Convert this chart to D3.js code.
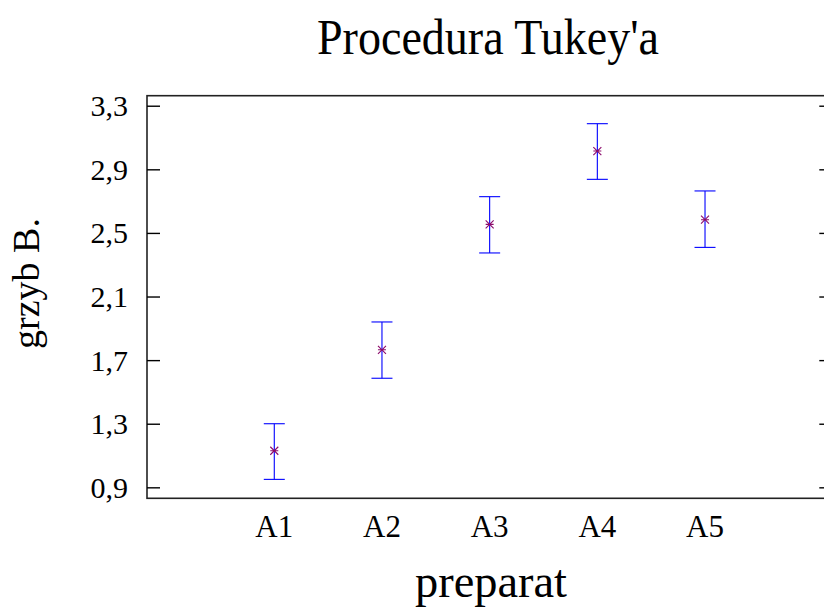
<!DOCTYPE html>
<html>
<head>
<meta charset="utf-8">
<script src="https://cdn.jsdelivr.net/npm/d3@7"></script>
<style>
html,body{margin:0;padding:0;background:#fff;}
svg{display:block;}
text{font-family:"Liberation Serif","Times New Roman",serif;fill:#000;}
</style>
</head>
<body>
<svg id="chart" width="824" height="607"></svg>
<script>
const categories = ["A1","A2","A3","A4","A5"];
const means = [1.130, 1.765, 2.554, 3.015, 2.583];
const lower = [0.950, 1.586, 2.374, 2.837, 2.409];
const upper = [1.300, 1.940, 2.728, 3.187, 2.764];
const yTicks = [0.9, 1.3, 1.7, 2.1, 2.5, 2.9, 3.3];
const title = "Procedura Tukey'a";
const xTitle = "preparat";
const yTitle = "grzyb B.";

const svg = d3.select("#chart");
const pLeft = 147, pRight = 832.3, pTop = 95.7, pBottom = 498.3;

const x = d3.scaleLinear().domain([-1.182, 5.182]).range([pLeft, pRight]);
const y = d3.scaleLinear().domain([0.831, 3.363]).range([pBottom, pTop]);
const fmt = v => d3.format(".1f")(v).replace(".", ",");

// frame
svg.append("rect").attr("x", pLeft).attr("y", pTop)
  .attr("width", pRight - pLeft).attr("height", pBottom - pTop)
  .attr("fill", "none").attr("stroke", "#222").attr("stroke-width", 1.6);

// left axis
const yAxisL = d3.axisLeft(y).tickValues(yTicks).tickSize(-13).tickPadding(19).tickFormat(fmt);
const gl = svg.append("g").attr("transform", `translate(${pLeft},0)`).call(yAxisL);
gl.select(".domain").remove();
gl.selectAll(".tick line").attr("stroke", "#000").attr("stroke-width", 1.4);
gl.selectAll(".tick text").attr("font-size", 30).attr("x", -19).attr("dy", "0.33em")
  .style("font-family", '"Liberation Serif","Times New Roman",serif').attr("fill", "#000");

// right axis ticks
const yAxisR = d3.axisRight(y).tickValues(yTicks).tickSize(-13).tickFormat("");
const gr = svg.append("g").attr("transform", `translate(${pRight},0)`).call(yAxisR);
gr.select(".domain").remove();
gr.selectAll(".tick line").attr("stroke", "#000").attr("stroke-width", 1.4);

// x tick labels
svg.append("g").selectAll("text").data(categories).join("text")
  .attr("x", (d, i) => x(i)).attr("y", 536.7)
  .attr("text-anchor", "middle").attr("font-size", 31).text(d => d);

// error bars
const capW = 10.5;
const bars = svg.append("g");
categories.forEach((c, i) => {
  const cx = x(i);
  bars.append("line").attr("x1", cx).attr("x2", cx).attr("y1", y(upper[i])).attr("y2", y(lower[i]))
    .attr("stroke", "#0000ff").attr("stroke-width", 1.1);
  bars.append("line").attr("x1", cx - capW).attr("x2", cx + capW).attr("y1", y(upper[i])).attr("y2", y(upper[i]))
    .attr("stroke", "#0000ff").attr("stroke-width", 1.1);
  bars.append("line").attr("x1", cx - capW).attr("x2", cx + capW).attr("y1", y(lower[i])).attr("y2", y(lower[i]))
    .attr("stroke", "#0000ff").attr("stroke-width", 1.1);
});

// markers (asterisk)
const m = 4;
const marks = svg.append("g").attr("stroke", "#8b0a6a").attr("stroke-width", 1.1);
means.forEach((v, i) => {
  const cx = x(i), cy = y(v);
  marks.append("path").attr("d",
    `M${cx - m},${cy - m}L${cx + m},${cy + m}M${cx - m},${cy + m}L${cx + m},${cy - m}M${cx - m},${cy}L${cx + m},${cy}`)
    .attr("fill", "none");
});

// titles
svg.append("text").attr("x", 488).attr("y", 54.3).attr("text-anchor", "middle")
  .attr("font-size", 50).attr("textLength", 342).attr("lengthAdjust", "spacingAndGlyphs").text(title);
svg.append("text").attr("x", 491).attr("y", 596.7).attr("text-anchor", "middle")
  .attr("font-size", 47).attr("textLength", 152).attr("lengthAdjust", "spacingAndGlyphs").text(xTitle);
svg.append("text").attr("transform", "translate(39,283.5) rotate(-90)").attr("text-anchor", "middle")
  .attr("font-size", 38).text(yTitle);
</script>
</body>
</html>
